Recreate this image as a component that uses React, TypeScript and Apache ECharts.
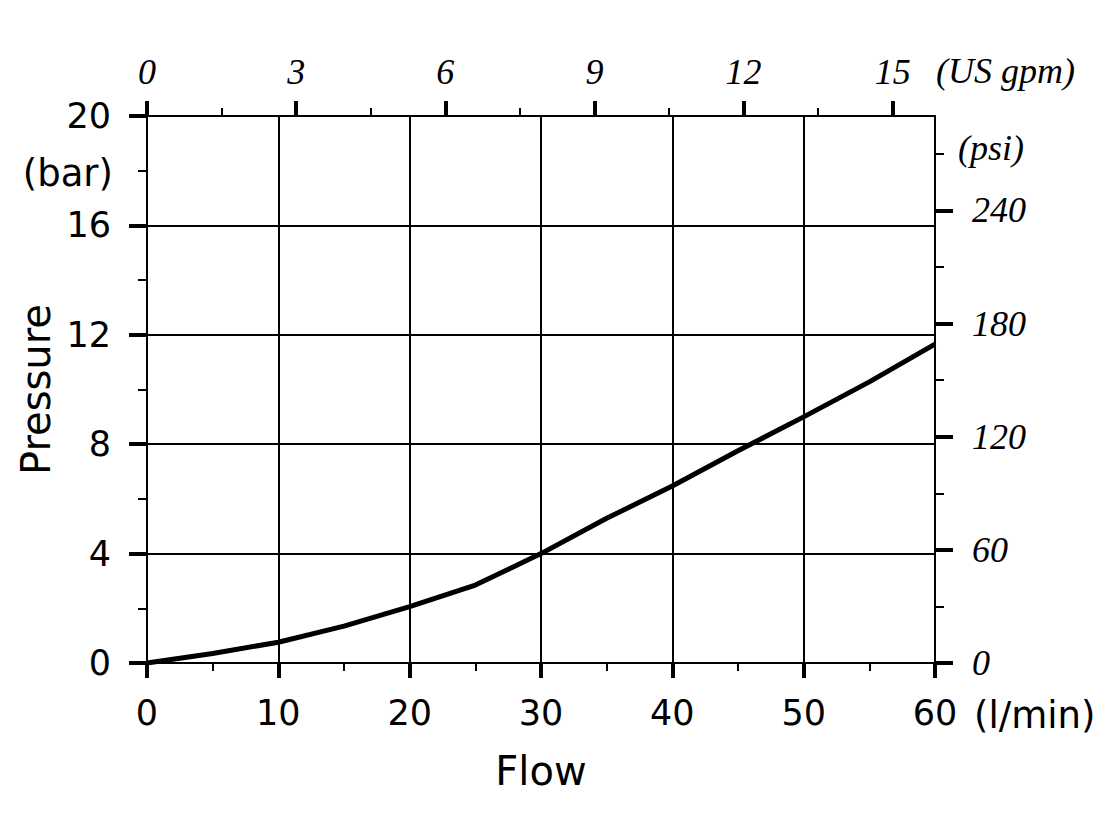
import React, { useEffect, useRef } from "react";
import * as echarts from "echarts";

// Flow (l/min) vs pressure (bar)
const flow = [0, 5, 10, 15, 20, 25, 30, 35, 40, 45, 50, 55, 60];
const pressureBar = [0, 0.35, 0.76, 1.35, 2.06, 2.85, 4.0, 5.29, 6.47, 7.76, 9.0, 10.28, 11.66];

// secondary-unit tick values
const gpmMajor = [0, 3, 6, 9, 12, 15];
const gpmMinor = [1.5, 4.5, 7.5, 10.5, 13.5];
const psiMajor = [0, 60, 120, 180, 240];
const psiMinor = [30, 90, 150, 210, 270];

const LPM_PER_GPM = 3.785411784;
const PSI_PER_BAR = 14.5037738;

const FLOW_MAX = 60;
const BAR_MAX = 20;

const SANS = "DejaVu Sans";
const SERIF = "Liberation Serif";

export default function App() {
  const ref = useRef<HTMLDivElement>(null);

  useEffect(() => {
    if (!ref.current) return;
    const chart = echarts.init(ref.current, undefined, { renderer: "svg" });
    const black = "#000";
    const axisLine = { show: true, onZero: false, lineStyle: { color: black, width: 2 } };
    const noLine = { show: false, onZero: false };

    const option: any = {
      animation: false,
      backgroundColor: "#fff",
      grid: { left: 147, top: 116, right: 180, bottom: 173, containLabel: false },
      xAxis: [
        {
          type: "value",
          position: "bottom",
          min: 0,
          max: FLOW_MAX,
          interval: 10,
          axisLine,
          axisTick: { show: true, length: 15, lineStyle: { color: black, width: 4 } },
          minorTick: { show: true, splitNumber: 2, length: 8, lineStyle: { color: black, width: 2 } },
          splitLine: { show: true, lineStyle: { color: black, width: 2 } },
          axisLabel: { color: black, fontFamily: SANS, fontSize: 35, margin: 32 },
          name: "Flow",
          nameLocation: "middle",
          nameGap: 88,
          nameTextStyle: { color: black, fontFamily: SANS, fontSize: 40 },
        },
        {
          type: "value",
          position: "top",
          min: 0,
          max: FLOW_MAX / LPM_PER_GPM,
          axisLine,
          axisTick: { show: true, length: 15, customValues: gpmMajor, lineStyle: { color: black, width: 4 } },
          axisLabel: {
            color: black,
            fontFamily: SERIF,
            fontStyle: "italic",
            fontSize: 36,
            margin: 26,
            customValues: gpmMajor,
          },
          splitLine: { show: false },
        },
        {
          type: "value",
          position: "top",
          min: 0,
          max: FLOW_MAX / LPM_PER_GPM,
          axisLine: noLine,
          axisTick: { show: true, length: 8, customValues: gpmMinor, lineStyle: { color: black, width: 2 } },
          axisLabel: { show: false },
          splitLine: { show: false },
        },
      ],
      yAxis: [
        {
          type: "value",
          position: "left",
          min: 0,
          max: BAR_MAX,
          interval: 4,
          axisLine,
          axisTick: { show: true, length: 18, lineStyle: { color: black, width: 4 } },
          minorTick: { show: true, splitNumber: 2, length: 9, lineStyle: { color: black, width: 2 } },
          splitLine: { show: true, lineStyle: { color: black, width: 2 } },
          axisLabel: { color: black, fontFamily: SANS, fontSize: 35, margin: 36 },
          name: "Pressure",
          nameLocation: "middle",
          nameRotate: 90,
          nameGap: 88,
          nameTextStyle: { color: black, fontFamily: SANS, fontSize: 40 },
        },
        {
          type: "value",
          position: "right",
          min: 0,
          max: BAR_MAX * PSI_PER_BAR,
          axisLine,
          axisTick: { show: true, length: 18, customValues: psiMajor, lineStyle: { color: black, width: 4 } },
          axisLabel: {
            color: black,
            fontFamily: SERIF,
            fontStyle: "italic",
            fontSize: 36,
            margin: 37,
            customValues: psiMajor,
          },
          splitLine: { show: false },
        },
        {
          type: "value",
          position: "right",
          min: 0,
          max: BAR_MAX * PSI_PER_BAR,
          axisLine: noLine,
          axisTick: { show: true, length: 9, customValues: psiMinor, lineStyle: { color: black, width: 2 } },
          axisLabel: { show: false },
          splitLine: { show: false },
        },
      ],
      graphic: [
        {
          type: "text",
          x: 113,
          y: 173,
          style: {
            text: "(bar)",
            font: `37px "${SANS}"`,
            fill: black,
            align: "right",
            verticalAlign: "middle",
          },
        },
        {
          type: "text",
          x: 958,
          y: 148,
          style: {
            text: "(psi)",
            font: `italic 36px "${SERIF}"`,
            fill: black,
            align: "left",
            verticalAlign: "middle",
          },
        },
        {
          type: "text",
          x: 936,
          y: 71,
          style: {
            text: "(US gpm)",
            font: `italic 36px "${SERIF}"`,
            fill: black,
            align: "left",
            verticalAlign: "middle",
          },
        },
        {
          type: "text",
          x: 974,
          y: 715,
          style: {
            text: "(l/min)",
            font: `37px "${SANS}"`,
            fill: black,
            align: "left",
            verticalAlign: "middle",
          },
        },
      ],
      series: [
        {
          type: "line",
          xAxisIndex: 0,
          yAxisIndex: 0,
          data: flow.map((f, i) => [f, pressureBar[i]]),
          showSymbol: false,
          symbol: "none",
          smooth: false,
          lineStyle: { color: black, width: 5 },
          z: 5,
        },
      ],
    };

    chart.setOption(option);
    return () => chart.dispose();
  }, []);

  return (
    <div
      ref={ref}
      style={{ position: "absolute", left: 0, top: 0, width: 1115, height: 836, background: "#fff" }}
    />
  );
}
